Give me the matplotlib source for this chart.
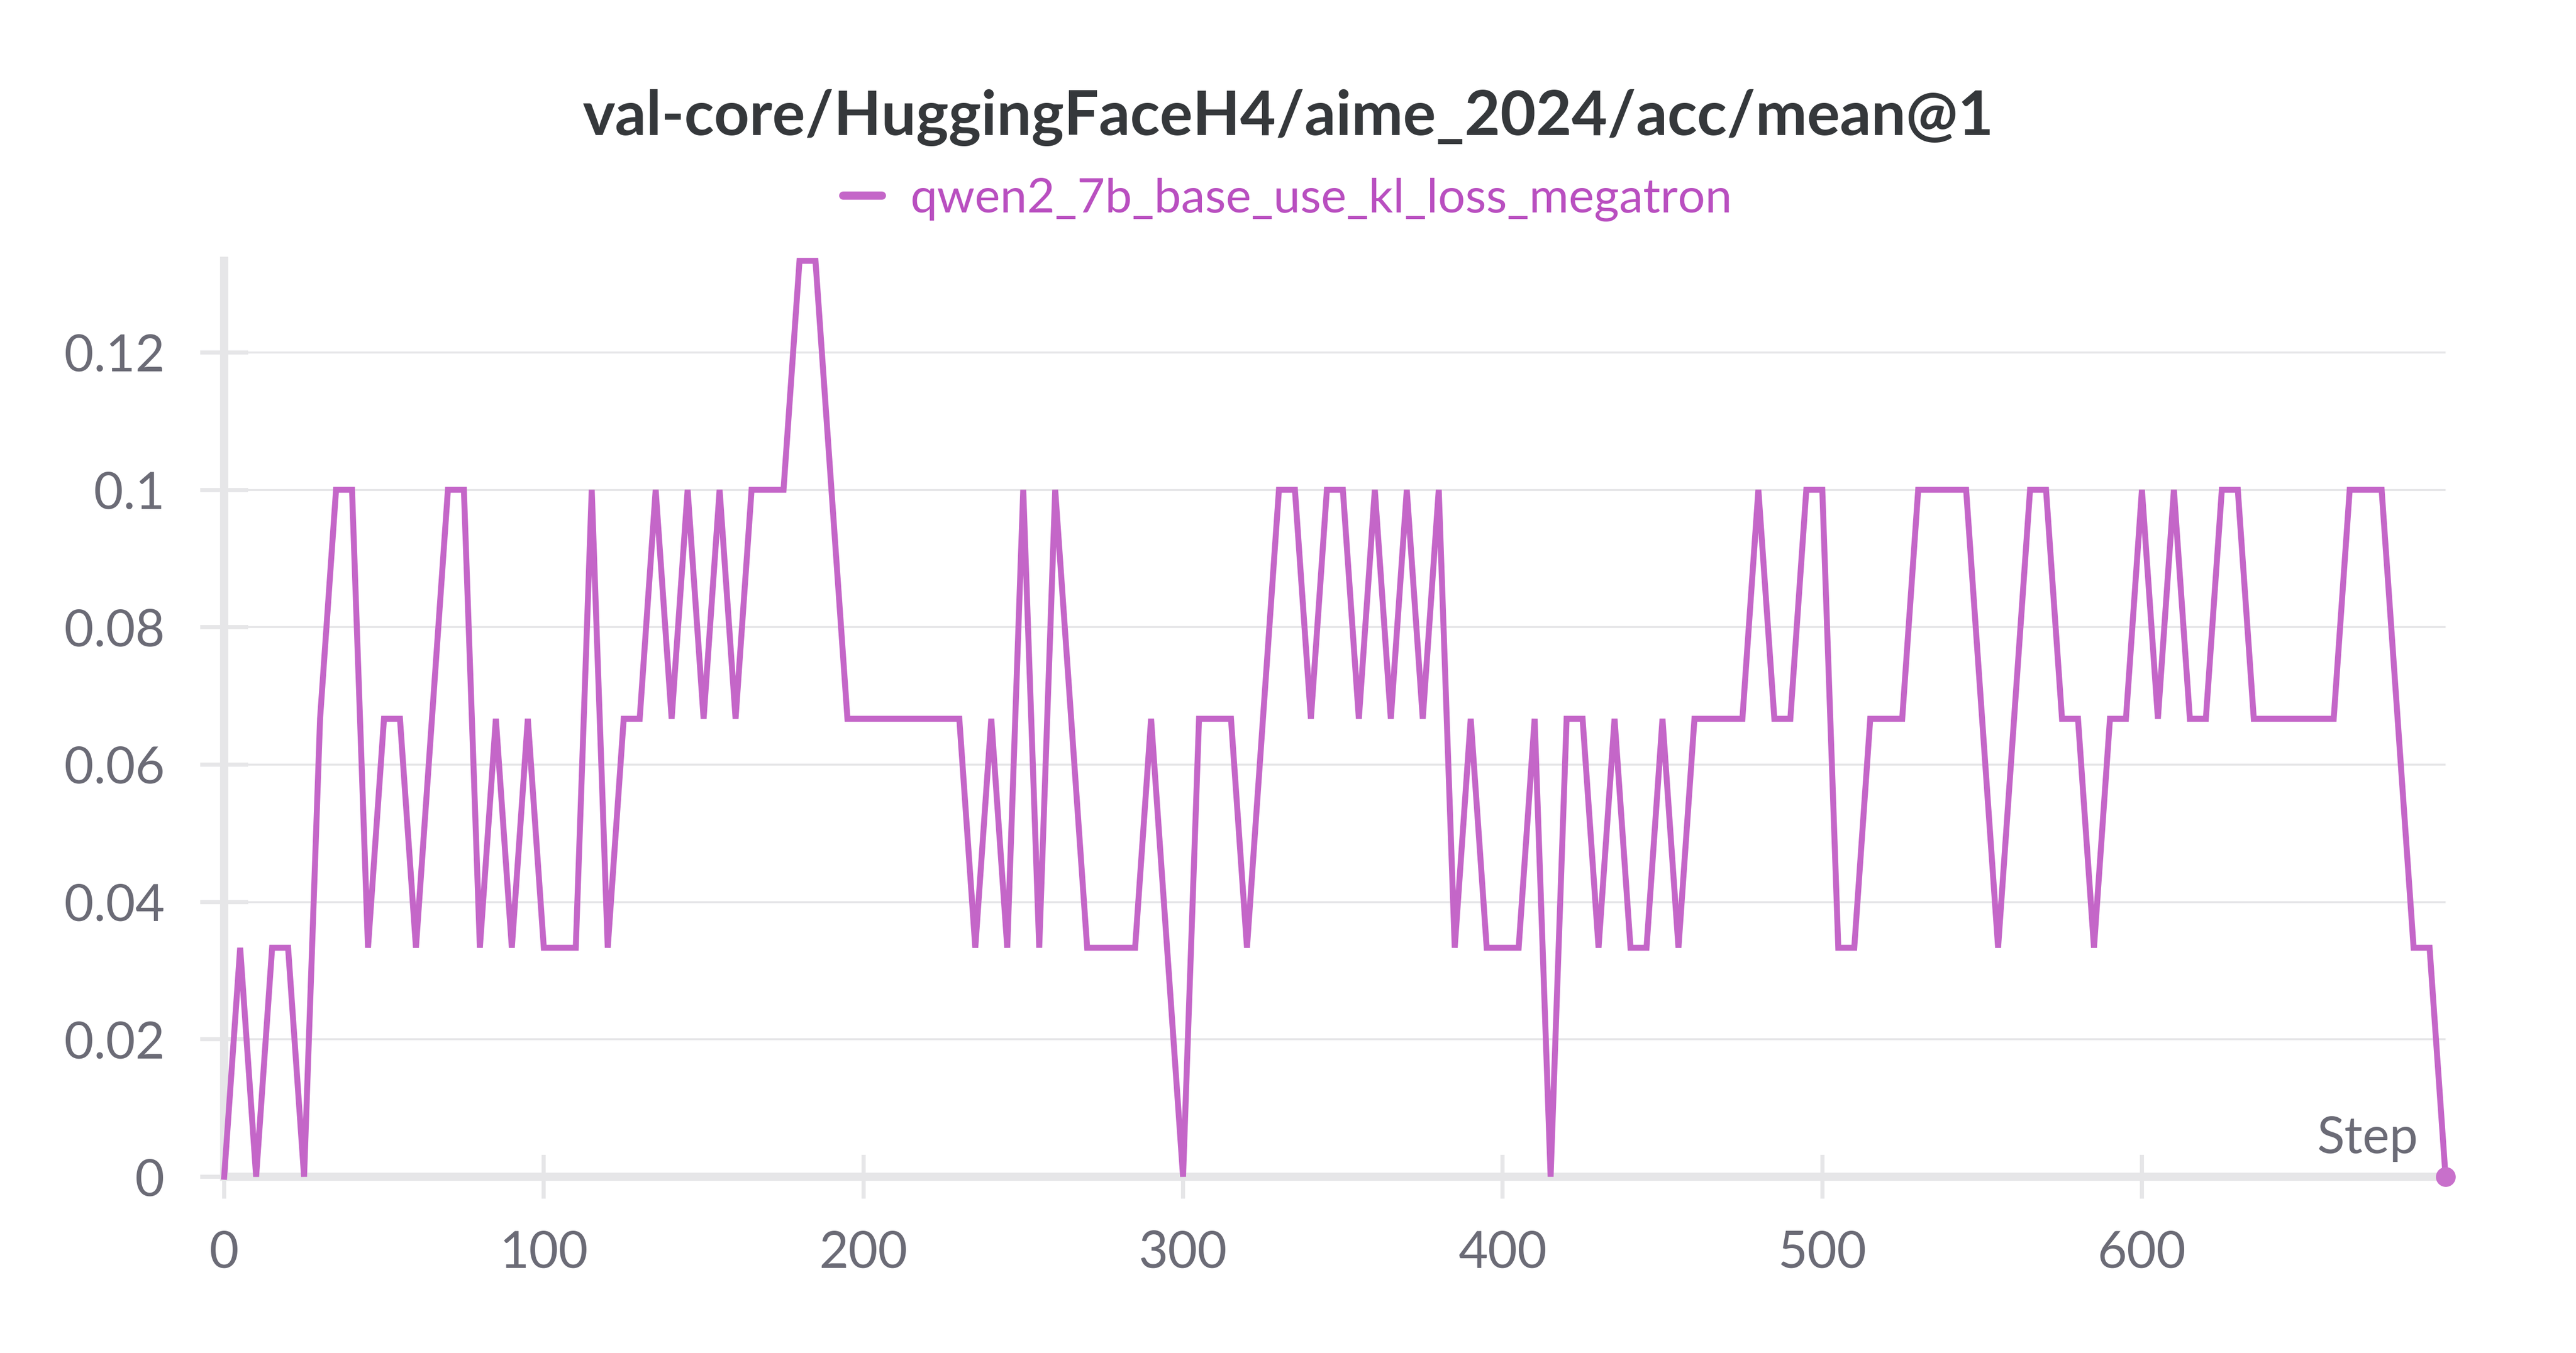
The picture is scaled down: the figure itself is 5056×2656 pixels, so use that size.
import numpy as np
import matplotlib
matplotlib.use("Agg")
import matplotlib.pyplot as plt
from matplotlib.lines import Line2D

# accuracy values, in units of 1/30 (30 aime problems), one every 5 steps
steps = list(range(0, 700, 5))
solved = [
    0, 1, 0, 1, 1, 0, 2, 3, 3, 1,
    2, 2, 1, 2, 3, 3, 1, 2, 1, 2,
    1, 1, 1, 3, 1, 2, 2, 3, 2, 3,
    2, 3, 2, 3, 3, 3, 4, 4, 3, 2,
    2, 2, 2, 2, 2, 2, 2, 1, 2, 1,
    3, 1, 3, 2, 1, 1, 1, 1, 2, 1,
    0, 2, 2, 2, 1, 2, 3, 3, 2, 3,
    3, 2, 3, 2, 3, 2, 3, 1, 2, 1,
    1, 1, 2, 0, 2, 2, 1, 2, 1, 1,
    2, 1, 2, 2, 2, 2, 3, 2, 2, 3,
    3, 1, 1, 2, 2, 2, 3, 3, 3, 3,
    2, 1, 2, 3, 3, 2, 2, 1, 2, 2,
    3, 2, 3, 2, 2, 3, 3, 2, 2, 2,
    2, 2, 2, 3, 3, 3, 2, 1, 1, 0,
]
acc = np.array(solved) / 30.0

run_name = "qwen2_7b_base_use_kl_loss_megatron"
title = "val-core/HuggingFaceH4/aime_2024/acc/mean@1"
yticks = [0, 0.02, 0.04, 0.06, 0.08, 0.1, 0.12]
ytick_labels = ["0", "0.02", "0.04", "0.06", "0.08", "0.1", "0.12"]
xticks = [0, 100, 200, 300, 400, 500, 600]

line_color = "#c466c8"
legend_color = "#b94fc0"
axis_color = "#e6e6e8"
tick_text = "#6b6b76"

plt.rcParams['font.family'] = ['Lato', 'DejaVu Sans']

W, H = 5056, 2656
dpi = 200
fig = plt.figure(figsize=(W / dpi, H / dpi), dpi=dpi)
ax = fig.add_axes([440 / W, 1 - 2310 / H, (4800 - 440) / W, (2310 - 512) / H])

ax.plot(steps, acc, color=line_color, lw=4.2, solid_joinstyle='miter', zorder=3, clip_on=False)
ax.plot(steps[-1], acc[-1], 'o', color='#c870cb', ms=14, mew=0, zorder=4, clip_on=False)

ax.set_xlim(0, steps[-1])
ax.set_ylim(0, 4 / 30)

ax.set_yticks(yticks)
ax.set_yticklabels(ytick_labels)
ax.set_xticks(xticks)

for side in ['top', 'right']:
    ax.spines[side].set_visible(False)
for side in ['left', 'bottom']:
    ax.spines[side].set_color(axis_color)
    ax.spines[side].set_linewidth(5.8)
    ax.spines[side].set_zorder(2)

ax.tick_params(axis='y', direction='inout', length=34, width=2.9, color=axis_color,
               labelcolor=tick_text, labelsize=36, pad=25)
ax.tick_params(axis='x', direction='inout', length=31, width=2.9, color=axis_color,
               labelcolor=tick_text, labelsize=36, pad=22)

ax.grid(axis='y', color=axis_color, lw=1.4, zorder=1)
ax.set_axisbelow(True)

ax.text(4746 / W, 1 - 2264 / H, "Step", transform=fig.transFigure, ha='right',
        va='baseline', color=tick_text, fontsize=36)

fig.text(0.5, 1 - 265 / H, title, ha='center', va='baseline', fontsize=43.5,
         fontweight='bold', color='#35383b')

handle = Line2D([], [], color=line_color, lw=5.8, solid_capstyle='round')
leg = fig.legend([handle], [run_name], loc='center', bbox_to_anchor=(0.5, 1 - 392 / H),
                 frameon=False, fontsize=34, handlelength=0.8, handletextpad=0.6,
                 labelcolor=legend_color)

fig.savefig("out.png", dpi=dpi, facecolor='white')
